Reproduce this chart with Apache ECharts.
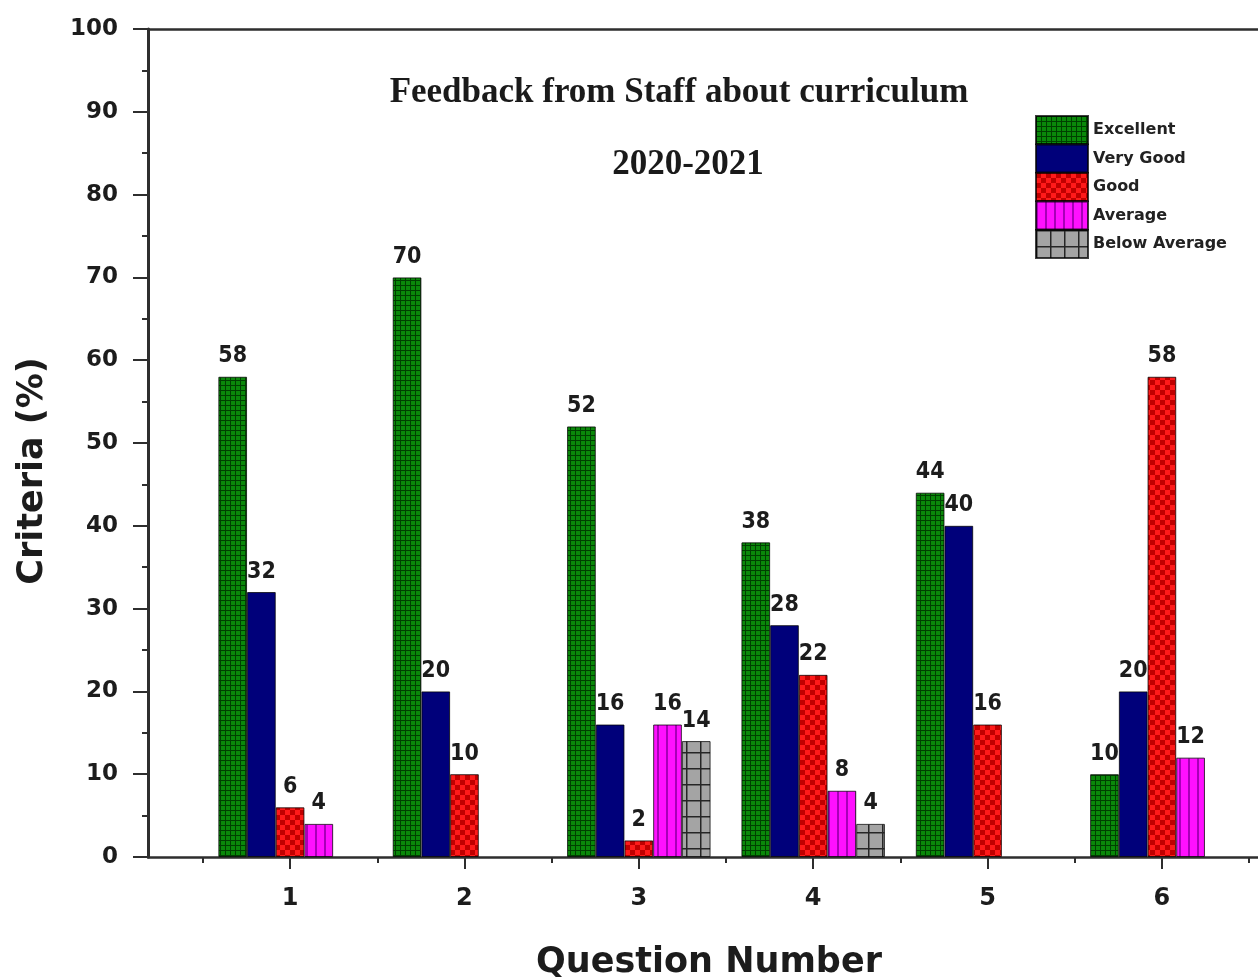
<!DOCTYPE html>
<html>
<head>
<meta charset="utf-8">
<script src="https://cdn.jsdelivr.net/npm/echarts@6/dist/echarts.min.js"></script>
<style>html,body{margin:0;padding:0;background:#fff;}#chart{width:1258px;height:978px;}</style>
</head>
<body>
<div id="chart"></div>
<script>
// ---- data ----
const questions = [1, 2, 3, 4, 5, 6];
const seriesNames = ['Excellent', 'Very Good', 'Good', 'Average', 'Below Average'];
const excellent = [58, 70, 52, 38, 44, 10];
const veryGood = [32, 20, 16, 28, 40, 20];
const good = [6, 10, 2, 22, 16, 58];
const average = [4, null, 16, 8, null, 12];
const belowAverage = [null, null, 14, 4, null, null];
const yTicks = [0, 10, 20, 30, 40, 50, 60, 70, 80, 90, 100];
const minorXTicks = [0.5, 1.5, 2.5, 3.5, 4.5, 5.5, 6.5];
const titleMain = 'Feedback from Staff about curriculum';
const titleYear = '2020-2021';

function pairs(vals) {
  const out = [];
  questions.forEach((q, i) => { if (vals[i] != null) out.push([q, vals[i]]); });
  return out;
}
function makePattern(w, h, draw) {
  const c = document.createElement('canvas');
  c.width = w; c.height = h;
  const ctx = c.getContext('2d');
  draw(ctx, w, h);
  return { image: c, repeat: 'repeat' };
}
const greenPat = makePattern(5, 5, (ctx, w, h) => {
  ctx.fillStyle = '#0a880a'; ctx.fillRect(0, 0, w, h);
  ctx.fillStyle = '#004000'; ctx.fillRect(0, 0, w, 1); ctx.fillRect(0, 0, 1, h);
});
const navyPat = '#00007a';
const redPat = makePattern(10, 10, (ctx, w, h) => {
  ctx.fillStyle = '#ff1a1a'; ctx.fillRect(0, 0, w, h);
  ctx.fillStyle = '#c00000'; ctx.fillRect(0, 0, 5, 5); ctx.fillRect(5, 5, 5, 5);
});
const magentaPat = makePattern(9, 4, (ctx, w, h) => {
  ctx.fillStyle = '#ff10ff'; ctx.fillRect(0, 0, w, h);
  ctx.fillStyle = '#a800b8'; ctx.fillRect(0, 0, 2, h);
});
const grayPat = makePattern(14, 16, (ctx, w, h) => {
  ctx.fillStyle = '#a4a4a4'; ctx.fillRect(0, 0, w, h);
  ctx.fillStyle = '#262626'; ctx.fillRect(0, 0, w, 1.5); ctx.fillRect(0, 0, 1.5, h);
});
const fills = [greenPat, navyPat, redPat, magentaPat, grayPat];
const values = [excellent, veryGood, good, average, belowAverage];

const chart = echarts.init(document.getElementById('chart'), null, { renderer: 'canvas' });
const axisColor = '#2e2e2e';
const series = seriesNames.map((name, i) => ({
  name: name,
  type: 'bar',
  xAxisIndex: 0,
  yAxisIndex: 0,
  barWidth: 28.7,
  barGap: '0%',
  data: pairs(values[i]),
  itemStyle: { color: fills[i], borderColor: 'rgba(0,0,0,0.75)', borderWidth: 1 },
  label: {
    show: true, position: 'top', distance: 9,
    formatter: p => p.value[1],
    fontFamily: 'DejaVu Sans Condensed', fontWeight: 'bold', fontSize: 23, color: '#1c1c1c'
  },
  emphasis: { disabled: true }
}));

chart.setOption({
  animation: false,
  backgroundColor: '#fff',
  title: [
    { text: titleMain, left: 679, top: 75, textAlign: 'center', padding: 0,
      textStyle: { fontFamily: 'Liberation Serif', fontWeight: 'bold', fontSize: 35, color: '#1a1a1a' } },
    { text: titleYear, left: 688, top: 147, textAlign: 'center', padding: 0,
      textStyle: { fontFamily: 'Liberation Serif', fontWeight: 'bold', fontSize: 35, color: '#1a1a1a' } }
  ],
  legend: {
    orient: 'vertical', left: 1035, top: 115, padding: 0,
    itemWidth: 52, itemHeight: 28, itemGap: -1.5, icon: 'rect',
    data: seriesNames,
    textStyle: { fontFamily: 'DejaVu Sans', fontWeight: 'bold', fontSize: 16, color: '#222' }
  },
  grid: { left: 148, top: 29, width: 1122, height: 828, containLabel: false, outerBoundsMode: 'none' },
  xAxis: [
    {
      type: 'value', min: 0.185, max: 6.62, position: 'bottom',
      name: 'Question Number', nameLocation: 'middle', nameGap: 88,
      nameTextStyle: { fontFamily: 'DejaVu Sans', fontWeight: 'bold', fontSize: 35, color: '#1c1c1c' },
      axisLine: { show: true, onZero: false, lineStyle: { color: axisColor, width: 2.5 } },
      axisTick: { show: true, inside: false, length: 12, customValues: questions, lineStyle: { color: axisColor, width: 2 } },
      axisLabel: { show: true, customValues: questions, margin: 30,
        fontFamily: 'DejaVu Sans', fontWeight: 'bold', fontSize: 24, color: '#1c1c1c' },
      splitLine: { show: false }
    },
    {
      type: 'value', min: 0.185, max: 6.62, position: 'top',
      axisLine: { show: true, onZero: false, lineStyle: { color: axisColor, width: 2.5 } },
      axisTick: { show: false }, axisLabel: { show: false }, splitLine: { show: false }
    },
    {
      type: 'value', min: 0.185, max: 6.62, position: 'bottom',
      axisLine: { show: false, onZero: false },
      axisTick: { show: true, inside: false, length: 6, customValues: minorXTicks, lineStyle: { color: axisColor, width: 2 } },
      axisLabel: { show: false, customValues: minorXTicks }, splitLine: { show: false }
    }
  ],
  yAxis: {
    type: 'value', min: 0, max: 100, interval: 10,
    name: 'Criteria (%)', nameLocation: 'middle', nameGap: 98,
    nameTextStyle: { fontFamily: 'DejaVu Sans', fontWeight: 'bold', fontSize: 35, color: '#1c1c1c', padding: [0, 56, 0, 0] },
    axisLine: { show: true, onZero: false, lineStyle: { color: axisColor, width: 3 } },
    axisTick: { show: true, inside: false, length: 15, lineStyle: { color: axisColor, width: 2 } },
    minorTick: { show: true, splitNumber: 2, length: 6, lineStyle: { color: axisColor, width: 2 } },
    axisLabel: { margin: 30, fontFamily: 'DejaVu Sans', fontWeight: 'bold', fontSize: 23, color: '#1c1c1c',
      customValues: yTicks },
    splitLine: { show: false }
  },
  series: series
});
</script>
</body>
</html>
